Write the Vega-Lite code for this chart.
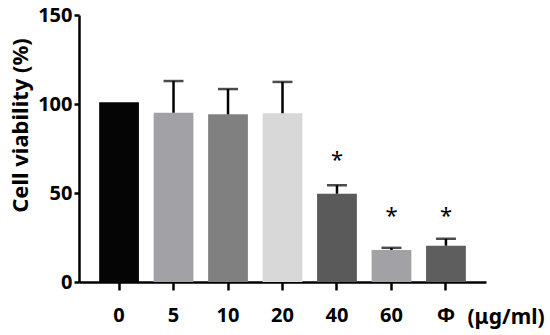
{
  "$schema": "https://vega.github.io/schema/vega-lite/v6.json",
  "width": 407,
  "height": 267,
  "autosize": "none",
  "padding": {"left": 79, "top": 15, "right": 64, "bottom": 53},
  "background": "white",
  "config": {
    "view": {"stroke": null},
    "font": "Noto Sans",
    "axis": {"grid": false, "domainColor": "black", "domainWidth": 2.5, "tickColor": "black", "tickWidth": 2.5, "labelColor": "black", "titleColor": "black", "labelFont": "Noto Sans", "titleFont": "Noto Sans"}
  },
  "data": {
    "values": [
      {"dose": "0", "mean": 101, "upper": 101, "star": ""},
      {"dose": "5", "mean": 95.1, "upper": 112.9, "star": ""},
      {"dose": "10", "mean": 94.2, "upper": 108.4, "star": ""},
      {"dose": "20", "mean": 94.8, "upper": 112.4, "star": ""},
      {"dose": "40", "mean": 49.6, "upper": 54.3, "star": "*", "starY": 71},
      {"dose": "60", "mean": 18, "upper": 19.2, "star": "*", "starY": 39.5},
      {"dose": "Φ", "mean": 20.4, "upper": 24.3, "star": "*", "starY": 39.5}
    ]
  },
  "encoding": {
    "x": {
      "field": "dose", "type": "nominal",
      "sort": ["0", "5", "10", "20", "40", "60", "Φ"],
      "scale": {"paddingInner": 0.27, "paddingOuter": 0.37},
      "axis": {
        "labelAngle": 0, "labelFontSize": 20, "labelFontWeight": "bold", "tickSize": 8, "labelPadding": 15,
        "title": "(μg/ml)", "titleFontSize": 21, "titleFontWeight": "bold", "titleAlign": "left", "titleBaseline": "middle",
        "titleX": 388, "titleY": 35
      }
    }
  },
  "layer": [
    {
      "mark": {"type": "bar"},
      "encoding": {
        "y": {
          "field": "mean", "type": "quantitative",
          "scale": {"domain": [0, 150], "nice": false},
          "axis": {
            "values": [0, 50, 100, 150], "tickSize": 5, "labelPadding": 2, "labelFontSize": 20, "labelFontWeight": "bold",
            "title": "Cell viability (%)", "titleFontSize": 22, "titleFontWeight": "bold", "titlePadding": 5, "titleY": 110
          }
        },
        "color": {
          "field": "dose", "type": "nominal", "legend": null,
          "scale": {"domain": ["0", "5", "10", "20", "40", "60", "Φ"], "range": ["#050505", "#a2a2a6", "#808080", "#d8d8d8", "#5a5a5a", "#a2a2a6", "#5e5e5e"]}
        }
      }
    },
    {
      "transform": [{"filter": "datum.upper > datum.mean"}],
      "mark": {"type": "rule", "color": "black", "strokeWidth": 2.5},
      "encoding": {
        "y": {"field": "mean", "type": "quantitative"},
        "y2": {"field": "upper"}
      }
    },
    {
      "transform": [{"filter": "datum.upper > datum.mean"}],
      "mark": {"type": "tick", "color": "black", "thickness": 2.5, "size": 20, "orient": "horizontal"},
      "encoding": {
        "y": {"field": "upper", "type": "quantitative"}
      }
    },
    {
      "transform": [{"filter": "datum.star != ''"}],
      "mark": {"type": "text", "fontSize": 22, "color": "black", "baseline": "middle", "dy": 4},
      "encoding": {
        "y": {"field": "starY", "type": "quantitative"},
        "text": {"field": "star"}
      }
    }
  ]
}
